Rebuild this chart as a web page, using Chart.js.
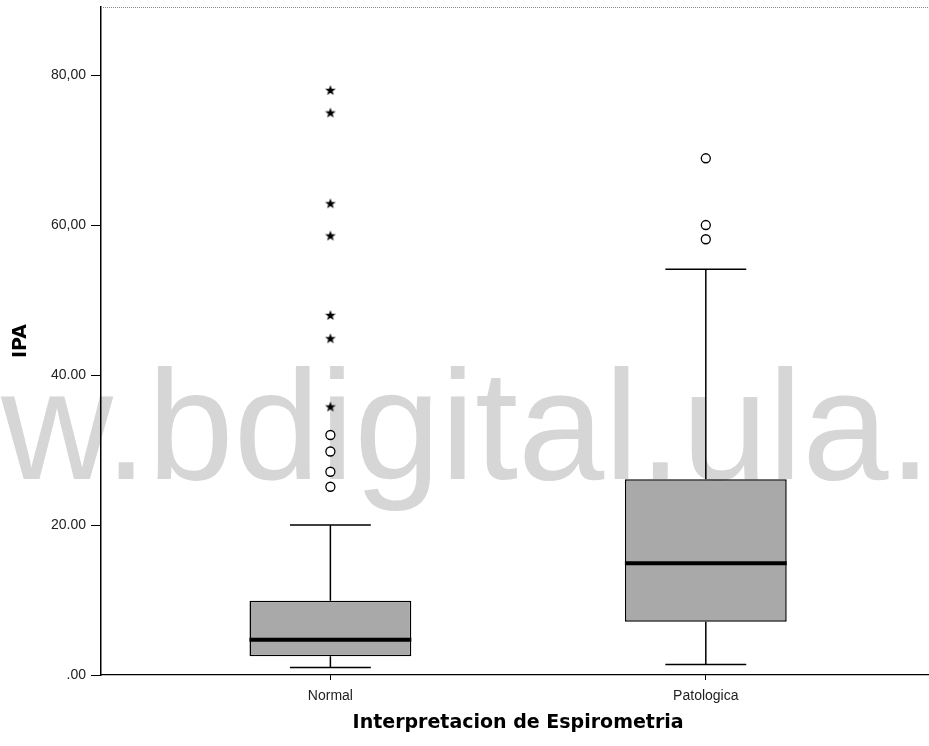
<!DOCTYPE html>
<html>
<head>
<meta charset="utf-8">
<script src="https://cdn.jsdelivr.net/npm/chart.js@4"></script>
<style>
html, body { margin: 0; padding: 0; background: #fff; overflow: hidden; }
</style>
</head>
<body>
<canvas id="myChart" width="941" height="746"></canvas>
<script>
// box plot values
const categories = ['Normal', 'Patologica'];
const whiskerLow = [1.0, 1.4];
const q1 = [2.5, 7.1];
const median = [4.7, 14.9];
const q3 = [9.9, 26.1];
const whiskerHigh = [20.0, 54.1];
const outliersNormal = [25.1, 27.1, 29.8, 32.0];
const extremesNormal = [35.8, 44.9, 48.0, 58.6, 62.9, 75.0, 78.0];
const outliersPatologica = [58.1, 60.0, 68.9];
const yTicks = [0, 20, 40, 60, 80];
const yTickLabels = ['.00', '20.00', '40.00', '60,00', '80,00'];

// five point star used for the extreme values
const star = document.createElement('canvas');
star.width = 12; star.height = 12;
(function () {
    const c = star.getContext('2d');
    c.beginPath();
    for (let i = 0; i < 10; i++) {
        const r = i % 2 ? 2.3 : 5.6;
        const a = -Math.PI / 2 + i * Math.PI / 5;
        c.lineTo(6 + r * Math.cos(a), 6.5 + r * Math.sin(a));
    }
    c.closePath();
    c.fillStyle = '#000';
    c.fill();
})();

const watermark = {
    id: 'watermark',
    beforeDraw(chart) {
        const ctx = chart.ctx;
        ctx.save();
        ctx.font = '155px "Liberation Sans", Arial, sans-serif';
        ctx.fillStyle = '#d6d6d6';
        ctx.textBaseline = 'alphabetic';
        ctx.textAlign = 'left';
        ctx.fillText('w.bdigital.ula.', 1, 479);
        ctx.restore();
    }
};

const boxExtras = {
    id: 'boxExtras',
    afterDatasetsDraw(chart) {
        const ctx = chart.ctx;
        const x = chart.scales.x, y = chart.scales.y;
        const bars = chart.getDatasetMeta(0).data;
        ctx.save();
        ctx.strokeStyle = '#000';
        categories.forEach((c, i) => {
            const cx = x.getPixelForValue(i);
            const w = bars[i].width;
            ctx.lineWidth = 1.5;
            ctx.beginPath();
            ctx.moveTo(cx, y.getPixelForValue(q3[i]));
            ctx.lineTo(cx, y.getPixelForValue(whiskerHigh[i]));
            ctx.moveTo(cx, y.getPixelForValue(q1[i]));
            ctx.lineTo(cx, y.getPixelForValue(whiskerLow[i]));
            ctx.moveTo(cx - w / 4, y.getPixelForValue(whiskerHigh[i]));
            ctx.lineTo(cx + w / 4, y.getPixelForValue(whiskerHigh[i]));
            ctx.moveTo(cx - w / 4, y.getPixelForValue(whiskerLow[i]));
            ctx.lineTo(cx + w / 4, y.getPixelForValue(whiskerLow[i]));
            ctx.stroke();
            ctx.lineWidth = 4;
            ctx.beginPath();
            ctx.moveTo(cx - w / 2, y.getPixelForValue(median[i]));
            ctx.lineTo(cx + w / 2, y.getPixelForValue(median[i]));
            ctx.stroke();
        });
        ctx.restore();
    },
    afterDraw(chart) {
        const ctx = chart.ctx, a = chart.chartArea;
        ctx.save();
        ctx.strokeStyle = '#888';
        ctx.setLineDash([1, 1]);
        ctx.lineWidth = 1;
        ctx.beginPath();
        ctx.moveTo(a.left, a.top + 0.5);
        ctx.lineTo(a.right, a.top + 0.5);
        ctx.stroke();
        ctx.restore();
    }
};

const ctx = document.getElementById('myChart');

new Chart(ctx, {
    type: 'bar',
    data: {
        datasets: [{
            label: 'box',
            data: categories.map((c, i) => ({ x: i, y: [q1[i], q3[i]] })),
            backgroundColor: '#a9a9a9',
            borderColor: '#000',
            borderWidth: 1.5,
            borderSkipped: false,
            barPercentage: 1,
            categoryPercentage: 0.431
        }, {
            type: 'scatter',
            label: 'outliers',
            data: outliersNormal.map(v => ({ x: 0, y: v }))
                .concat(outliersPatologica.map(v => ({ x: 1, y: v }))),
            pointStyle: 'circle',
            pointRadius: 4.5,
            pointBorderWidth: 1.3,
            pointBorderColor: '#000',
            pointBackgroundColor: '#fff'
        }, {
            type: 'scatter',
            label: 'extremes',
            data: extremesNormal.map(v => ({ x: 0, y: v })),
            pointStyle: star
        }]
    },
    options: {
        responsive: false,
        animation: false,
        layout: { padding: { top: 7, right: 0, left: 0, bottom: 0 } },
        plugins: { legend: { display: false }, tooltip: { enabled: false } },
        scales: {
            x: {
                type: 'linear',
                offset: false,
                min: -0.611,
                max: 1.611,
                afterBuildTicks: s => { s.ticks = categories.map((c, i) => ({ value: i })); },
                afterFit: s => { s.height = 71; s.paddingLeft = 0; s.paddingRight = 0; },
                ticks: {
                    callback: v => categories[v],
                    color: '#222',
                    padding: 8,
                    font: { family: '"Liberation Sans", Arial', size: 14 }
                },
                grid: { drawOnChartArea: false, drawTicks: true, tickLength: 5, color: '#000', offset: false },
                border: { display: true, color: '#000', width: 1.2 },
                title: {
                    display: true,
                    text: 'Interpretacion de Espirometria',
                    color: '#000',
                    padding: { top: 0, bottom: 12 },
                    font: { family: '"DejaVu Sans"', size: 19, weight: 'bold' }
                }
            },
            y: {
                min: 0,
                max: 89.07,
                afterBuildTicks: s => { s.ticks = yTicks.map(v => ({ value: v })); },
                afterFit: s => { s.width = 101; s.paddingTop = 0; s.paddingBottom = 0; },
                ticks: {
                    callback: (v, i) => yTickLabels[i],
                    color: '#222',
                    padding: 5,
                    font: { family: '"Liberation Sans", Arial', size: 14 }
                },
                grid: { drawOnChartArea: false, drawTicks: true, tickLength: 10, color: '#000' },
                border: { display: true, color: '#000', width: 1.5 },
                title: {
                    display: true,
                    text: 'IPA',
                    color: '#000',
                    padding: { top: 10, bottom: 0 },
                    font: { family: '"DejaVu Sans"', size: 19, weight: 'bold' }
                }
            }
        }
    },
    plugins: [watermark, boxExtras]
});
</script>
</body>
</html>
